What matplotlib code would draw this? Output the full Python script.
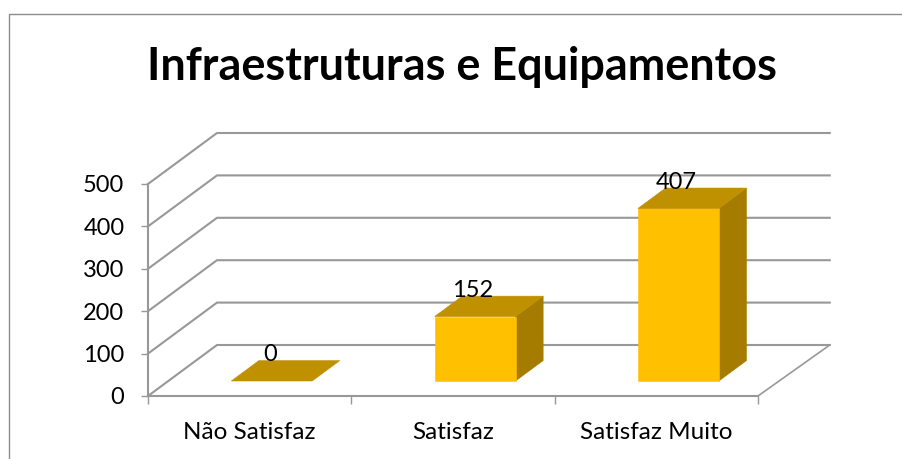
import matplotlib
matplotlib.use('Agg')
import matplotlib.pyplot as plt
from matplotlib.lines import Line2D
from matplotlib.patches import Polygon

categories = ['Não Satisfaz', 'Satisfaz', 'Satisfaz Muito']
values = [0, 152, 407]
yticks = [0, 100, 200, 300, 400, 500]
title = 'Infraestruturas e Equipamentos'

GRID = '#989898'
FRONT = '#FFC000'
TOP = '#BF9000'
SIDE = '#A67C00'

W, H = 903, 459
# front plane of the fake 3d box, in pixels
left, right, bottom, top = 148, 758, 396, 184
# how far the full depth of the box shifts things, in data units
DX = 69 / ((right - left) / 3)
DY = 51 / ((bottom - top) / 500)


def shift(x, y, d, stretch=1.0):
    return x + d * DX * stretch, y + d * DY


def bar3d(ax, i, v, width=0.398, d0=0.32, depth=0.4):
    x0, x1 = i + 0.5 - width / 2, i + 0.5 + width / 2
    # front lower left / right, top and back corners
    fl, fb = shift(x0, 0, d0)
    fr, _ = shift(x1, 0, d0)
    fb = 15 / ((bottom - top) / 500)
    ft = fb + v
    bdx, bdy = depth * DX, depth * DY
    if v > 0:
        ax.add_patch(Polygon([(fr, fb), (fr + bdx, fb + bdy), (fr + bdx, ft + bdy), (fr, ft)],
                             fc=SIDE, ec=SIDE, lw=0.4, clip_on=False, zorder=3))
        ax.add_patch(Polygon([(fl, fb), (fr, fb), (fr, ft), (fl, ft)],
                             fc=FRONT, ec=FRONT, lw=0.4, clip_on=False, zorder=4))
    ax.add_patch(Polygon([(fl, ft), (fr, ft), (fr + bdx, ft + bdy), (fl + bdx, ft + bdy)],
                         fc=TOP, ec=TOP, lw=0.4, clip_on=False, zorder=4))
    ax.annotate(str(v), ((fl + fr) / 2, ft), xytext=(-1.5, 19), textcoords='offset points',
                ha='center', va='center', fontsize=FS, color='black', zorder=6)


FS = 17
plt.rcParams['font.family'] = ['Lato', 'DejaVu Sans']

fig = plt.figure(figsize=(W / 100, H / 100), dpi=100)
ax = fig.add_axes([left / W, 1 - bottom / H, (right - left) / W, (bottom - top) / H])
ax.set_xlim(0, 3)
ax.set_ylim(0, 500)
ax.patch.set_alpha(0)

# walls: diagonal on the left and long line along the back
for v in yticks:
    bx, by = shift(0, v, 1)
    ex, _ = shift(3, v, 1, stretch=1.04)
    ax.plot([0, bx, ex], [v, by, by], color=GRID, lw=1.5, clip_on=False, zorder=1,
            solid_joinstyle='miter')
ex, ey = shift(3, 0, 1, stretch=1.04)
ax.plot([3, ex], [0, ey], color=GRID, lw=1.2, clip_on=False, zorder=1)

for i, v in enumerate(values):
    bar3d(ax, i, v)

for s in ['top', 'right']:
    ax.spines[s].set_visible(False)
for s in ['left', 'bottom']:
    ax.spines[s].set_color(GRID)
    ax.spines[s].set_linewidth(1.5)

ax.set_yticks(yticks)
ax.tick_params(axis='y', length=5, width=1.0, color=GRID, labelsize=FS, pad=12)
ax.set_xticks([0, 1, 2, 3])
ax.set_xticklabels([])
ax.tick_params(axis='x', which='major', length=6, width=1.0, color=GRID)
ax.set_xticks([0.5, 1.5, 2.5], minor=True)
ax.set_xticklabels(categories, minor=True)
ax.tick_params(axis='x', which='minor', length=0, labelsize=17.5, pad=19)

fig.text(462.5 / W, 1 - 67.5 / H, title, ha='center', va='center', fontsize=32.4, fontweight='bold', color='black')

# chart border, only left and top are inside the crop
fig.add_artist(Line2D([8.5 / W, 8.5 / W, 1], [0, 1 - 13.5 / H, 1 - 13.5 / H], color='#8c8c8c', lw=1.0))

fig.savefig('out.png', dpi=100)
